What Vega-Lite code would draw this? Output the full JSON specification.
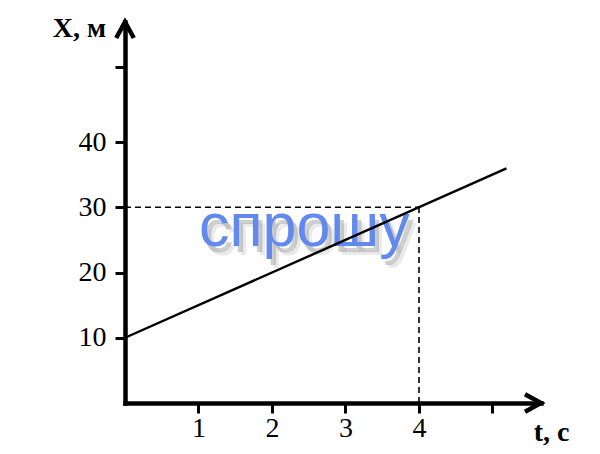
{
  "$schema": "https://vega.github.io/schema/vega-lite/v6.json",
  "autosize": "none",
  "width": 416,
  "height": 381,
  "padding": {"left": 125, "top": 22, "right": 59, "bottom": 51},
  "background": "white",
  "config": {"view": {"stroke": null}},
  "datasets": {
    "line": [{"t": 0, "X": 10}, {"t": 5.19, "X": 35.95}],
    "guides": [{"t": 0, "X": 30, "t2": 4, "X2": 30}, {"t": 4, "X": 0, "t2": 4, "X2": 30}],
    "arrows": [{"t": 0, "X": 58.4, "dir": "up"}, {"t": 5.66, "X": 0, "dir": "right"}],
    "mark": [{"t": 2.44, "X": 24.1, "label": "спрошу"}]
  },
  "encoding": {
    "x": {
      "field": "t", "type": "quantitative",
      "scale": {"domain": [0, 5.66], "nice": false, "zero": false},
      "axis": {
        "values": [1, 2, 3, 4, 5],
        "labelExpr": "datum.value == 5 ? '' : datum.label",
        "grid": false,
        "domainColor": "black", "domainWidth": 4.5, "domainCap": "square",
        "tickColor": "black", "tickWidth": 3, "tickSize": 10,
        "labelFont": "Liberation Serif", "labelFontSize": 28, "labelColor": "black",
        "labelPadding": 1, "labelFlush": false,
        "title": "t, с", "titleFont": "Liberation Serif", "titleFontSize": 28, "titleFontWeight": "bold",
        "titleColor": "black", "titleX": 426, "titleY": 29, "titleAlign": "center", "titleBaseline": "middle", "titleAngle": 0
      }
    },
    "y": {
      "field": "X", "type": "quantitative",
      "scale": {"domain": [0, 58.4], "nice": false},
      "axis": {
        "values": [10, 20, 30, 40, 51.5],
        "labelExpr": "datum.value > 45 ? '' : datum.label",
        "grid": false,
        "domainColor": "black", "domainWidth": 4.5, "domainCap": "square",
        "tickColor": "black", "tickWidth": 3, "tickSize": 10,
        "labelFont": "Liberation Serif", "labelFontSize": 28, "labelColor": "black",
        "labelPadding": 9, "labelFlush": false,
        "title": "X, м", "titleFont": "Liberation Serif", "titleFontSize": 28, "titleFontWeight": "bold",
        "titleColor": "black", "titleX": -46, "titleY": 6, "titleAlign": "center", "titleBaseline": "middle", "titleAngle": 0
      }
    }
  },
  "layer": [
    {
      "data": {"name": "guides"},
      "mark": {"type": "rule", "color": "black", "strokeWidth": 1.6, "strokeDash": [6, 4]},
      "encoding": {"x2": {"field": "t2"}, "y2": {"field": "X2"}}
    },
    {
      "data": {"name": "mark"},
      "mark": {"type": "text", "font": "Liberation Sans", "fontSize": 61, "align": "center", "baseline": "alphabetic", "color": "#777777", "opacity": 0.35, "dx": 4, "dy": 6},
      "encoding": {"text": {"field": "label"}}
    },
    {
      "data": {"name": "mark"},
      "mark": {"type": "text", "font": "Liberation Sans", "fontSize": 61, "align": "center", "baseline": "alphabetic", "color": "#999999", "opacity": 0.2, "dx": 7, "dy": 9},
      "encoding": {"text": {"field": "label"}}
    },
    {
      "data": {"name": "mark"},
      "mark": {"type": "text", "font": "Liberation Sans", "fontSize": 61, "align": "center", "baseline": "alphabetic", "color": "#6289ee"},
      "encoding": {"text": {"field": "label"}}
    },
    {
      "data": {"name": "line"},
      "mark": {"type": "line", "color": "black", "strokeWidth": 2.4}
    },
    {
      "data": {"name": "arrows"},
      "mark": {"type": "point", "filled": false, "stroke": "black", "strokeWidth": 4.5, "opacity": 1, "size": 1024, "strokeJoin": "miter"},
      "encoding": {
        "shape": {
          "field": "dir", "type": "nominal", "legend": null,
          "scale": {"domain": ["up", "right"], "range": ["M-0.55,1L0,0L0.55,1", "M-1,-0.55L0,0L-1,0.55"]}
        }
      }
    }
  ]
}
